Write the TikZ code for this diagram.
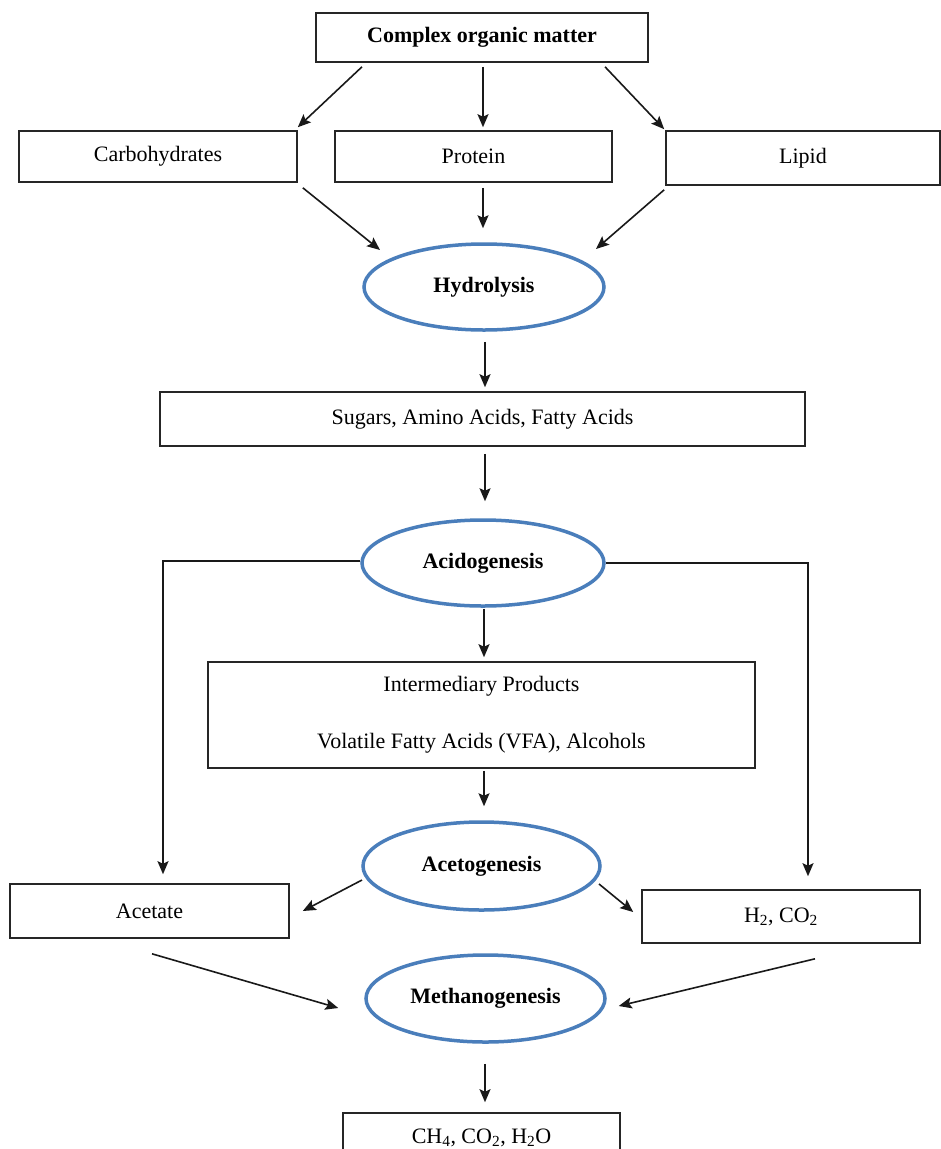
\documentclass[tikz,border=0pt]{standalone}
\usepackage{fontspec}
\setmainfont{Liberation Serif}
\usetikzlibrary{shapes.geometric,arrows.meta,calc}
\definecolor{stageblue}{RGB}{74,126,187}
\begin{document}
\begin{tikzpicture}[x=1pt,y=-1pt,
  font=\fontsize{22}{26}\selectfont,
  box/.style={draw=black!85,line width=1.6pt,rectangle,inner sep=0pt},
  stage/.style={draw=stageblue,line width=3.5pt,ellipse,inner sep=0pt,font=\fontsize{22}{26}\selectfont\bfseries},
  arr/.style={-{Stealth[length=13pt,width=11pt,inset=2.5pt]},line width=1.6pt,black!90}]
\clip (0,0) rectangle (941,1149);
\fill[white] (0,0) rectangle (941,1149);

% substrates
\node[box,minimum width=332pt,minimum height=49pt,font=\fontsize{22}{26}\selectfont\bfseries] (cplx) at (482,37.5) {Complex organic matter};
\node[box,minimum width=278pt,minimum height=51pt] (carb) at (158,156.5) {Carbohydrates};
\node[box,minimum width=277pt,minimum height=51pt] (prot) at (473.5,156.5) {Protein};
\node[box,minimum width=274pt,minimum height=54pt] (lipid) at (803,158) {Lipid};

% stages and products
\node[stage,minimum width=240pt,minimum height=86pt] (hyd) at (484,287) {Hydrolysis};
\node[box,minimum width=645pt,minimum height=54pt] (sugar) at (482.5,419) {Sugars, Amino Acids, Fatty Acids};
\node[stage,minimum width=242pt,minimum height=86pt] (acid) at (483,563) {Acidogenesis};
\node[box,minimum width=547pt,minimum height=106pt,align=center] (inter) at (481.5,715) {Intermediary Products\\[31pt]Volatile Fatty Acids (VFA), Alcohols};
\node[stage,minimum width=237pt,minimum height=88pt] (aceto) at (481.5,866) {Acetogenesis};
\node[box,minimum width=279pt,minimum height=54pt] (acet) at (149.5,911) {Acetate};
\node[box,minimum width=278pt,minimum height=53pt] (h2) at (781,916.5) {H\textsubscript{2}, CO\textsubscript{2}};
\node[stage,minimum width=239pt,minimum height=87pt] (meth) at (485.5,998.5) {Methanogenesis};
\node[box,minimum width=277pt,minimum height=50pt] (ch4) at (481.5,1138) {CH\textsubscript{4}, CO\textsubscript{2}, H\textsubscript{2}O};

% connectors
\draw[arr] ($(cplx.south)+(-120,4)$) -- ($(carb.north east)+(0,-3)$);
\draw[arr] ($(cplx.south)+(1,4)$) -- ($(prot.north)+(9.5,-3)$);
\draw[arr] ($(cplx.south)+(123,4)$) -- ($(lipid.north west)+(-1,-1)$);
\draw[arr] ($(carb.south east)+(5,5)$) -- ($(hyd.center)+(-104,-37)$);
\draw[arr] ($(prot.south)+(9.5,5)$) -- ($(hyd.north)+(-1,-14)$);
\draw[arr] ($(lipid.south west)+(-1,4)$) -- ($(hyd.center)+(112,-38)$);
\draw[arr] ($(hyd.south)+(1,10)$) -- ($(sugar.north)+(2.5,-4)$);
\draw[arr] ($(sugar.south)+(2.5,7)$) -- ($(acid.north)+(2,-17)$);
\draw[arr] ($(acid.west)+(0,-2)$) -| ($(acet.north)+(13.5,-9)$);
\draw[arr] ($(acid.east)+(0,0)$) -| ($(h2.north)+(27,-13)$);
\draw[arr] ($(acid.south)+(1,1)$) -- ($(inter.north)+(2.5,-4)$);
\draw[arr] ($(inter.south)+(2.5,2)$) -- ($(aceto.north)+(2.5,-14)$);
\draw[arr] ($(aceto.center)+(-119.5,14)$) -- ($(acet.east)+(13,0)$);
\draw[arr] ($(aceto.center)+(117.5,18)$) -- ($(h2.west)+(-8,-4.5)$);
\draw[arr] ($(acet.south)+(2.5,15)$) -- ($(meth.west)+(-26,9.5)$);
\draw[arr] ($(h2.south)+(34,15)$) -- ($(meth.east)+(12,7.5)$);
\draw[arr] ($(meth.south)+(-0.5,20)$) -- ($(ch4.north)+(3.5,-10)$);
\end{tikzpicture}
\end{document}
